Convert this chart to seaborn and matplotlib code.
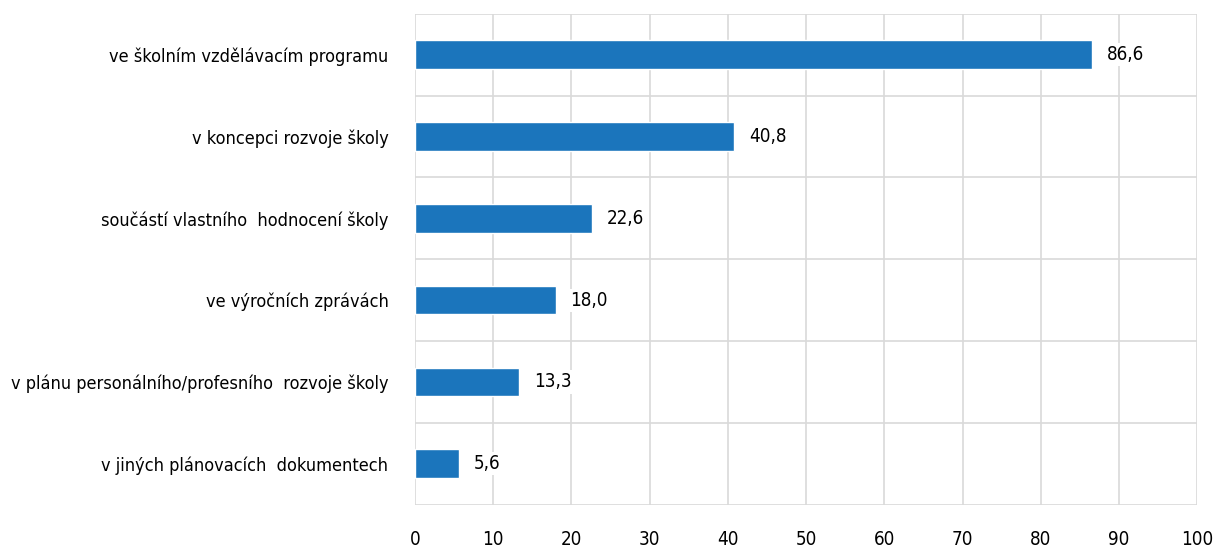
import numpy as np
import pandas as pd
import seaborn as sns
import matplotlib.pyplot as plt

# data
categories = ['ve školním vzdělávacím programu',
              'v koncepci rozvoje školy',
              'součástí vlastního  hodnocení školy',
              've výročních zprávách',
              'v plánu personálního/profesního  rozvoje školy',
              'v jiných plánovacích  dokumentech']
values = [86.6, 40.8, 22.6, 18.0, 13.3, 5.6]

df = pd.DataFrame({'kategorie': categories, 'podil': values})

sns.set_theme(style="white")
plt.rcParams['font.family'] = ['DejaVu Sans']
plt.rcParams['font.stretch'] = 'condensed'
plt.rcParams['text.color'] = 'black'
plt.rcParams['xtick.color'] = 'black'
plt.rcParams['ytick.color'] = 'black'

fig, ax = plt.subplots(figsize=(12.13, 5.48), dpi=100)
sns.barplot(data=df, y='kategorie', x='podil', orient='h', color='#1b75bc',
            saturation=1, width=0.35, ax=ax)

ax.set_xlim(0, 100)
ax.set_ylim(len(categories) - 0.5, -0.5)
ax.set_xticks(np.arange(0, 101, 10))
ax.set_yticks(np.arange(-0.5, len(categories), 1), minor=True)
ax.grid(axis='x', color='#d9d9d9', linewidth=1.2)
ax.grid(axis='y', which='minor', color='#d9d9d9', linewidth=1.2)
ax.set_axisbelow(True)
for s in ax.spines.values():
    s.set_visible(False)
ax.tick_params(axis='both', which='both', length=0)
ax.tick_params(axis='x', labelsize=13.5, pad=18)
ax.tick_params(axis='y', labelsize=13, pad=19)
ax.set_xlabel('')
ax.set_ylabel('')

for i, v in enumerate(values):
    ax.text(v + 1.9, i, f"{v:.1f}".replace('.', ','), va='center', ha='left',
            fontsize=13.5, color='black',
            bbox=dict(facecolor='white', edgecolor='none', pad=1.5))

plt.subplots_adjust(left=0.342, right=0.987, top=0.975, bottom=0.079)
plt.savefig('out.png', dpi=100)
